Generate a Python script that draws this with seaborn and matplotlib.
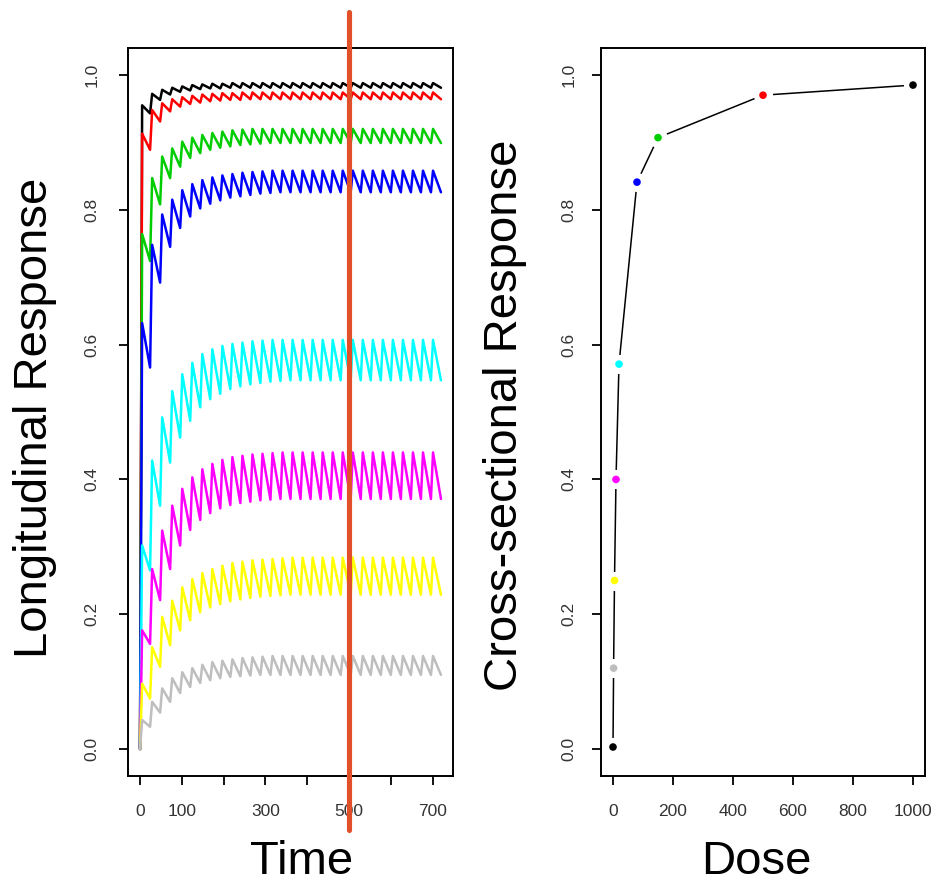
import matplotlib
matplotlib.use("Agg")
import matplotlib.pyplot as plt
import numpy as np
import pandas as pd
import seaborn as sns

# ---------------- data ----------------
dose_labels = ["1000", "500", "150", "80", "20", "10", "5", "2"]
series_colors = ["#000000", "#FF0000", "#00CD00", "#0000FF",
                 "#00FFFF", "#FF00FF", "#FFFF00", "#BEBEBE"]

dose_interval = 24   # hours between doses
rise_hours = 5       # time from dose to peak

peaks_1000 = [0.955, 0.972, 0.978, 0.981, 0.983, 0.985, 0.986, 0.987, 0.987, 0.988,
              0.988, 0.988, 0.988, 0.988, 0.988, 0.988, 0.988, 0.988, 0.988, 0.988,
              0.988, 0.988, 0.988, 0.988, 0.988, 0.988, 0.988, 0.988, 0.988, 0.988]
troughs_1000 = [0.943, 0.963, 0.971, 0.975, 0.977, 0.979, 0.980, 0.980, 0.981, 0.981,
                0.981, 0.981, 0.981, 0.981, 0.981, 0.981, 0.981, 0.981, 0.981, 0.981,
                0.981, 0.981, 0.981, 0.981, 0.981, 0.981, 0.981, 0.981, 0.981, 0.981]

peaks_500 = [0.913, 0.948, 0.958, 0.964, 0.967, 0.969, 0.971, 0.972, 0.973, 0.973,
             0.974, 0.974, 0.974, 0.974, 0.974, 0.974, 0.974, 0.974, 0.974, 0.974,
             0.974, 0.974, 0.974, 0.974, 0.974, 0.974, 0.974, 0.974, 0.974, 0.974]
troughs_500 = [0.889, 0.931, 0.946, 0.953, 0.957, 0.959, 0.961, 0.962, 0.963, 0.963,
               0.964, 0.964, 0.964, 0.964, 0.964, 0.964, 0.964, 0.964, 0.964, 0.964,
               0.964, 0.964, 0.964, 0.964, 0.964, 0.964, 0.964, 0.964, 0.964, 0.964]

peaks_150 = [0.764, 0.847, 0.879, 0.891, 0.901, 0.907, 0.911, 0.914, 0.916, 0.918,
             0.919, 0.920, 0.920, 0.920, 0.920, 0.920, 0.920, 0.920, 0.920, 0.920,
             0.920, 0.920, 0.920, 0.920, 0.920, 0.920, 0.920, 0.920, 0.920, 0.920]
troughs_150 = [0.724, 0.808, 0.847, 0.864, 0.877, 0.884, 0.889, 0.892, 0.894, 0.896,
               0.897, 0.898, 0.899, 0.899, 0.899, 0.899, 0.899, 0.899, 0.899, 0.899,
               0.899, 0.899, 0.899, 0.899, 0.899, 0.899, 0.899, 0.899, 0.899, 0.899]

peaks_80 = [0.632, 0.748, 0.793, 0.815, 0.829, 0.838, 0.844, 0.848, 0.851, 0.853,
            0.855, 0.856, 0.857, 0.858, 0.858, 0.858, 0.858, 0.858, 0.858, 0.858,
            0.858, 0.858, 0.858, 0.858, 0.858, 0.858, 0.858, 0.858, 0.858, 0.858]
troughs_80 = [0.566, 0.692, 0.745, 0.773, 0.790, 0.802, 0.809, 0.814, 0.818, 0.820,
              0.822, 0.824, 0.825, 0.826, 0.826, 0.826, 0.826, 0.826, 0.826, 0.826,
              0.826, 0.826, 0.826, 0.826, 0.826, 0.826, 0.826, 0.826, 0.826, 0.826]

peaks_20 = [0.302, 0.428, 0.492, 0.531, 0.556, 0.573, 0.586, 0.593, 0.598, 0.601,
            0.603, 0.605, 0.606, 0.607, 0.607, 0.607, 0.607, 0.607, 0.607, 0.607,
            0.607, 0.607, 0.607, 0.607, 0.607, 0.607, 0.607, 0.607, 0.607, 0.607]
troughs_20 = [0.265, 0.361, 0.425, 0.462, 0.487, 0.507, 0.519, 0.527, 0.534, 0.538,
              0.541, 0.543, 0.545, 0.546, 0.547, 0.547, 0.547, 0.547, 0.547, 0.547,
              0.547, 0.547, 0.547, 0.547, 0.547, 0.547, 0.547, 0.547, 0.547, 0.547]

peaks_10 = [0.176, 0.267, 0.324, 0.361, 0.386, 0.403, 0.415, 0.423, 0.429, 0.433,
            0.435, 0.437, 0.438, 0.439, 0.440, 0.440, 0.440, 0.440, 0.440, 0.440,
            0.440, 0.440, 0.440, 0.440, 0.440, 0.440, 0.440, 0.440, 0.440, 0.440]
troughs_10 = [0.156, 0.221, 0.267, 0.302, 0.325, 0.340, 0.350, 0.357, 0.362, 0.365,
              0.367, 0.369, 0.370, 0.371, 0.371, 0.371, 0.371, 0.371, 0.371, 0.371,
              0.371, 0.371, 0.371, 0.371, 0.371, 0.371, 0.371, 0.371, 0.371, 0.371]

peaks_5 = [0.097, 0.151, 0.196, 0.220, 0.240, 0.252, 0.261, 0.267, 0.272, 0.276,
           0.278, 0.280, 0.281, 0.282, 0.283, 0.284, 0.284, 0.284, 0.284, 0.284,
           0.284, 0.284, 0.284, 0.284, 0.284, 0.284, 0.284, 0.284, 0.284, 0.284]
troughs_5 = [0.075, 0.122, 0.154, 0.176, 0.191, 0.203, 0.210, 0.215, 0.219, 0.222,
             0.224, 0.226, 0.227, 0.228, 0.229, 0.229, 0.229, 0.229, 0.229, 0.229,
             0.229, 0.229, 0.229, 0.229, 0.229, 0.229, 0.229, 0.229, 0.229, 0.229]

peaks_2 = [0.043, 0.070, 0.090, 0.105, 0.114, 0.120, 0.125, 0.129, 0.131, 0.133,
           0.135, 0.136, 0.137, 0.138, 0.138, 0.138, 0.138, 0.138, 0.138, 0.138,
           0.138, 0.138, 0.138, 0.138, 0.138, 0.138, 0.138, 0.138, 0.138, 0.138]
troughs_2 = [0.033, 0.054, 0.070, 0.083, 0.092, 0.098, 0.102, 0.105, 0.107, 0.108,
             0.109, 0.110, 0.110, 0.110, 0.110, 0.110, 0.110, 0.110, 0.110, 0.110,
             0.110, 0.110, 0.110, 0.110, 0.110, 0.110, 0.110, 0.110, 0.110, 0.110]

peak_series = [peaks_1000, peaks_500, peaks_150, peaks_80,
               peaks_20, peaks_10, peaks_5, peaks_2]
trough_series = [troughs_1000, troughs_500, troughs_150, troughs_80,
                 troughs_20, troughs_10, troughs_5, troughs_2]

# cross-sectional panel
cross_dose = [0, 2, 5, 10, 20, 80, 150, 500, 1000]
cross_response = [0.003, 0.12, 0.25, 0.40, 0.571, 0.841, 0.907, 0.970, 0.985]
cross_colors = ["#000000", "#BEBEBE", "#FFFF00", "#FF00FF", "#00FFFF",
                "#0000FF", "#00CD00", "#FF0000", "#000000"]

time_ticks = [0, 100, 200, 300, 400, 500, 600, 700]
time_ticklabels = ["0", "100", "", "300", "", "500", "", "700"]
dose_ticks = [0, 200, 400, 600, 800, 1000]
resp_ticks = [0.0, 0.2, 0.4, 0.6, 0.8, 1.0]
resp_ticklabels = ["0.0", "0.2", "0.4", "0.6", "0.8", "1.0"]
marker_time = 500

# ---------------- long-form table ----------------
rows = []
for lab, pk, tr in zip(dose_labels, peak_series, trough_series):
    rows.append((lab, 0.0, 0.0))
    for k, (p, q) in enumerate(zip(pk, tr)):
        rows.append((lab, k * dose_interval + rise_hours, p))
        rows.append((lab, (k + 1) * dose_interval, q))
long_df = pd.DataFrame(rows, columns=["dose", "time", "response"])
cross_df = pd.DataFrame({"dose": cross_dose, "response": cross_response,
                         "col": [str(i) for i in range(len(cross_dose))]})

# ---------------- style ----------------
sns.set_style("ticks")
plt.rcParams["font.family"] = ["Liberation Sans", "DejaVu Sans"]

W, H = 938, 890
fig = plt.figure(figsize=(W / 100, H / 100), dpi=100)
ax1 = fig.add_axes([128 / W, 1 - 776 / H, 325 / W, 728 / H])
ax2 = fig.add_axes([601 / W, 1 - 776 / H, 324 / W, 728 / H])

sns.lineplot(data=long_df, x="time", y="response", hue="dose",
             hue_order=dose_labels, palette=dict(zip(dose_labels, series_colors)),
             estimator=None, sort=False, linewidth=1.8, legend=False, ax=ax1)

sns.lineplot(data=cross_df, x="dose", y="response", color="black",
             estimator=None, sort=False, linewidth=1.1, ax=ax2, zorder=2)
sns.scatterplot(data=cross_df, x="dose", y="response", color="white",
                s=190, linewidth=0, ax=ax2, zorder=3)
sns.scatterplot(data=cross_df, x="dose", y="response", hue="col",
                palette=dict(zip(cross_df["col"], cross_colors)),
                s=30, linewidth=0, legend=False, ax=ax2, zorder=4)

ax1.axvline(marker_time, ymin=-0.074, ymax=1.049, color="#E2502A",
            linewidth=3.7, clip_on=False, zorder=10)

tick_color = "#333333"
for ax in (ax1, ax2):
    ax.set_ylim(-0.04, 1.04)
    ax.set_yticks(resp_ticks)
    ax.set_yticklabels(resp_ticklabels, rotation=90, va="center")
    for sp in ax.spines.values():
        sp.set_visible(True)
        sp.set_color("black")
        sp.set_linewidth(1.4)
    ax.tick_params(axis="both", direction="out", length=6.5, width=1.3,
                   color="black", labelsize=12.5, labelcolor=tick_color)
    ax.tick_params(axis="x", pad=14)
    ax.grid(False)
ax1.tick_params(axis="y", pad=14)
ax2.tick_params(axis="y", pad=11)

ax1.set_xlim(-28.8, 748.8)
ax1.set_xticks(time_ticks)
ax1.set_xticklabels(time_ticklabels)
ax2.set_xlim(-40, 1040)
ax2.set_xticks(dose_ticks)
ax2.set_xticklabels([str(d) for d in dose_ticks])

label_kw = dict(fontsize=34, color="black")
ax1.set_xlabel("Time", va="center", **label_kw)
ax1.xaxis.set_label_coords((302 - 128) / 325, (776 - 862) / 728)
ax1.set_ylabel("Longitudinal Response", va="center", **label_kw)
ax1.yaxis.set_label_coords((35 - 128) / 325, (776 - 418) / 728)
ax2.set_xlabel("Dose", va="center", **label_kw)
ax2.xaxis.set_label_coords((756 - 601) / 324, (776 - 862) / 728)
ax2.set_ylabel("Cross-sectional Response", va="center", **label_kw)
ax2.yaxis.set_label_coords((505 - 601) / 324, (776 - 415) / 728)

fig.savefig("out.png", dpi=100, facecolor="white")
